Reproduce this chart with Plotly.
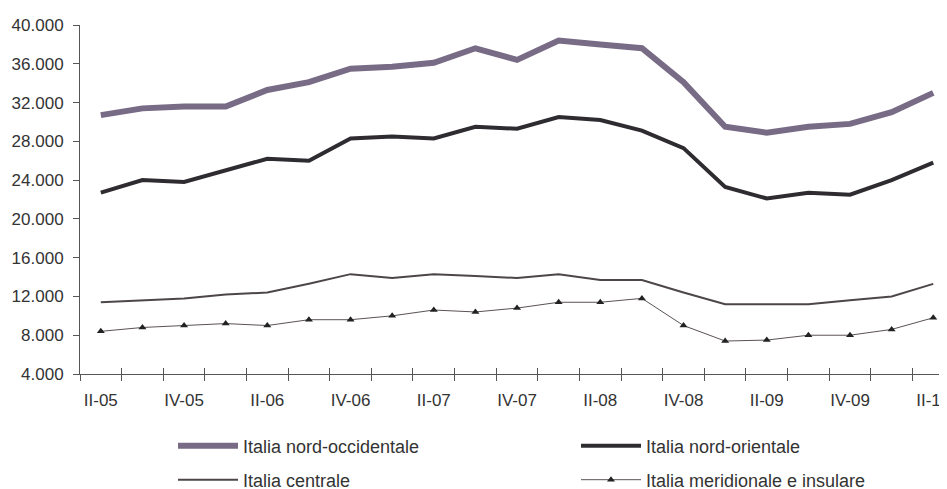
import plotly.graph_objects as go

quarters = ["II-05", "III-05", "IV-05", "I-06", "II-06", "III-06", "IV-06", "I-07",
            "II-07", "III-07", "IV-07", "I-08", "II-08", "III-08", "IV-08", "I-09",
            "II-09", "III-09", "IV-09", "I-10", "II-10"]
tick_labels = [q if i % 2 == 0 else "" for i, q in enumerate(quarters)]

nord_occidentale = [30700, 31400, 31600, 31600, 33300, 34100, 35500, 35700, 36100, 37600,
                    36400, 38400, 38000, 37600, 34100, 29500, 28900, 29500, 29800, 31000, 33000]
nord_orientale = [22700, 24000, 23800, 25000, 26200, 26000, 28300, 28500, 28300, 29500,
                  29300, 30500, 30200, 29100, 27300, 23300, 22100, 22700, 22500, 24000, 25800]
centrale = [11400, 11600, 11800, 12200, 12400, 13300, 14300, 13900, 14300, 14100,
            13900, 14300, 13700, 13700, 12400, 11200, 11200, 11200, 11600, 12000, 13300]
meridionale = [8400, 8800, 9000, 9200, 9000, 9600, 9600, 10000, 10600, 10400,
               10800, 11400, 11400, 11800, 9000, 7400, 7500, 8000, 8000, 8600, 9800]

y_ticks = [4000, 8000, 12000, 16000, 20000, 24000, 28000, 32000, 36000, 40000]

fig = go.Figure()
fig.add_trace(go.Scatter(x=quarters, y=nord_occidentale, name="Italia nord-occidentale",
                         mode="lines", line=dict(color="#786b86", width=6), legend="legend"))
fig.add_trace(go.Scatter(x=quarters, y=nord_orientale, name="Italia nord-orientale",
                         mode="lines", line=dict(color="#2e2c31", width=4), legend="legend2"))
fig.add_trace(go.Scatter(x=quarters, y=centrale, name="Italia centrale",
                         mode="lines", line=dict(color="#4d4647", width=2), legend="legend3"))
fig.add_trace(go.Scatter(x=quarters, y=meridionale, name="Italia meridionale e insulare",
                         mode="lines+markers", line=dict(color="#5a5253", width=1),
                         marker=dict(symbol="triangle-up", size=7, color="#222222"),
                         legend="legend4"))
# helper trace for the overlay axis carrying the upper half of the crossing ticks
fig.add_trace(go.Scatter(x=quarters, y=centrale, xaxis="x2", mode="markers",
                         marker=dict(opacity=0), showlegend=False, hoverinfo="skip"))

xr = [-0.5, 20.33]
axis_color = "#555555"
# the page body adds an 8px offset, so the figure is 8px smaller than the window
W, H = 939, 481


def leg(px, py):
    return dict(orientation="h", xref="container", yref="container",
                x=px / W, xanchor="left", y=1 - py / H, yanchor="middle",
                itemwidth=60,
                font=dict(size=18, family="Liberation Sans, Arial, sans-serif", color="#333333"),
                bgcolor="rgba(0,0,0,0)", itemclick=False, itemdoubleclick=False)


fig.update_layout(
    width=W, height=H,
    margin=dict(l=72, r=0, t=17, b=115),
    paper_bgcolor="white", plot_bgcolor="white",
    separators=",.",
    font=dict(family="Liberation Sans, Arial, sans-serif", color="#333333"),
    showlegend=True,
    xaxis=dict(type="category", categoryorder="array", categoryarray=quarters,
               range=xr, tickmode="array", tickvals=quarters, ticktext=tick_labels,
               tickson="boundaries", ticks="outside", ticklen=6, tickcolor=axis_color,
               tickangle=0, automargin=False,
               showline=True, linecolor=axis_color, linewidth=1, showgrid=False,
               zeroline=False, tickfont=dict(size=17, color="#333333"),
               ticklabelstandoff=11),
    xaxis2=dict(type="category", categoryorder="array", categoryarray=quarters,
                overlaying="x", side="bottom", range=xr, tickmode="array",
                tickvals=quarters, tickson="boundaries", ticks="inside", ticklen=6,
                tickcolor=axis_color, showticklabels=False, showline=False,
                showgrid=False, zeroline=False),
    yaxis=dict(range=[4000, 40000], tickmode="array", tickvals=y_ticks,
               tickformat=",.0f", ticks="outside", ticklen=6, tickcolor=axis_color,
               automargin=False,
               showline=True, linecolor=axis_color, linewidth=1, showgrid=False,
               zeroline=False, tickfont=dict(size=17, color="#333333"),
               ticklabelstandoff=6),
    legend=leg(165, 438),
    legend2=leg(568, 438),
    legend3=leg(165, 472),
    legend4=leg(568, 472),
)

fig.write_html("out.html")
